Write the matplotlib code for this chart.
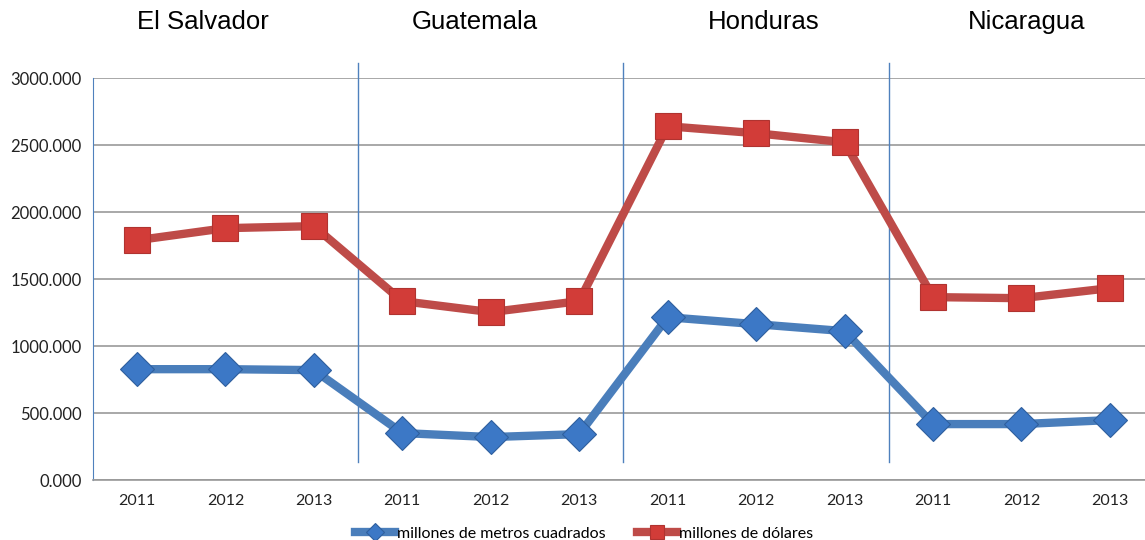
import matplotlib.pyplot as plt
import matplotlib.ticker as mticker

plt.rcParams['font.family'] = ['Lato', 'DejaVu Sans']

countries = ['El Salvador', 'Guatemala', 'Honduras', 'Nicaragua']
years = ['2011', '2012', '2013']
metros = [828, 828, 821, 351, 321, 343, 1216, 1164, 1112, 418, 418, 448]
dolares = [1791, 1881, 1896, 1336, 1254, 1336, 2642, 2590, 2522, 1366, 1358, 1433]

labels = years * len(countries)
x = list(range(len(labels)))

fig = plt.figure(figsize=(11.45, 5.4), dpi=100)
ax = fig.add_axes([0.081, 0.111, 0.927, 0.744])

ax.plot(x, metros, color='#4A7EBB', lw=6, marker='D', markersize=17,
        markerfacecolor='#3C78C6', markeredgecolor='#2F5F9E', markeredgewidth=0.8,
        solid_joinstyle='round', label='millones de metros cuadrados', zorder=3)
ax.plot(x, dolares, color='#BE4B48', lw=6, marker='s', markersize=19,
        markerfacecolor='#D23C38', markeredgecolor='#B03330', markeredgewidth=0.8,
        solid_joinstyle='round', label='millones de dólares', zorder=3)

ax.set_xlim(-0.5, len(labels) - 0.5)
ax.set_ylim(0, 3000)
ax.yaxis.set_major_locator(mticker.MultipleLocator(500))
ax.yaxis.set_major_formatter(mticker.FormatStrFormatter('%.3f'))
ax.set_xticks(x)
ax.set_xticklabels(labels)
ax.tick_params(axis='both', length=0, colors='#222222')
ax.tick_params(axis='x', pad=10, labelsize=11.5)
ax.tick_params(axis='y', pad=8, labelsize=12)

ax.grid(axis='y', color='#999999', lw=1.2)
ax.set_axisbelow(True)
for s in ['top', 'right']:
    ax.spines[s].set_visible(False)
ax.spines['left'].set_color('#4F81BD')
ax.spines['bottom'].set_color('#999999')
ax.spines['bottom'].set_linewidth(1.2)

# separadores entre países
for b in [2.5, 5.5, 8.5]:
    ax.axvline(b, ymin=0.045, ymax=1.037, color='#4F81BD', lw=1, clip_on=False)

# nombres de países
title_x = [0.75, 3.82, 7.08, 10.06]
for tx, name in zip(title_x, countries):
    ax.text(tx, 1.14, name, transform=ax.get_xaxis_transform(), ha='center', va='center',
            fontsize=18.5, family=['Liberation Sans', 'DejaVu Sans'])

ax.legend(loc='upper center', bbox_to_anchor=(0.463, -0.08), ncol=2, frameon=False,
          fontsize=11.5, handlelength=2.5, markerscale=0.55, columnspacing=2.0,
          handletextpad=0.1)

fig.savefig('out.png', dpi=100)
